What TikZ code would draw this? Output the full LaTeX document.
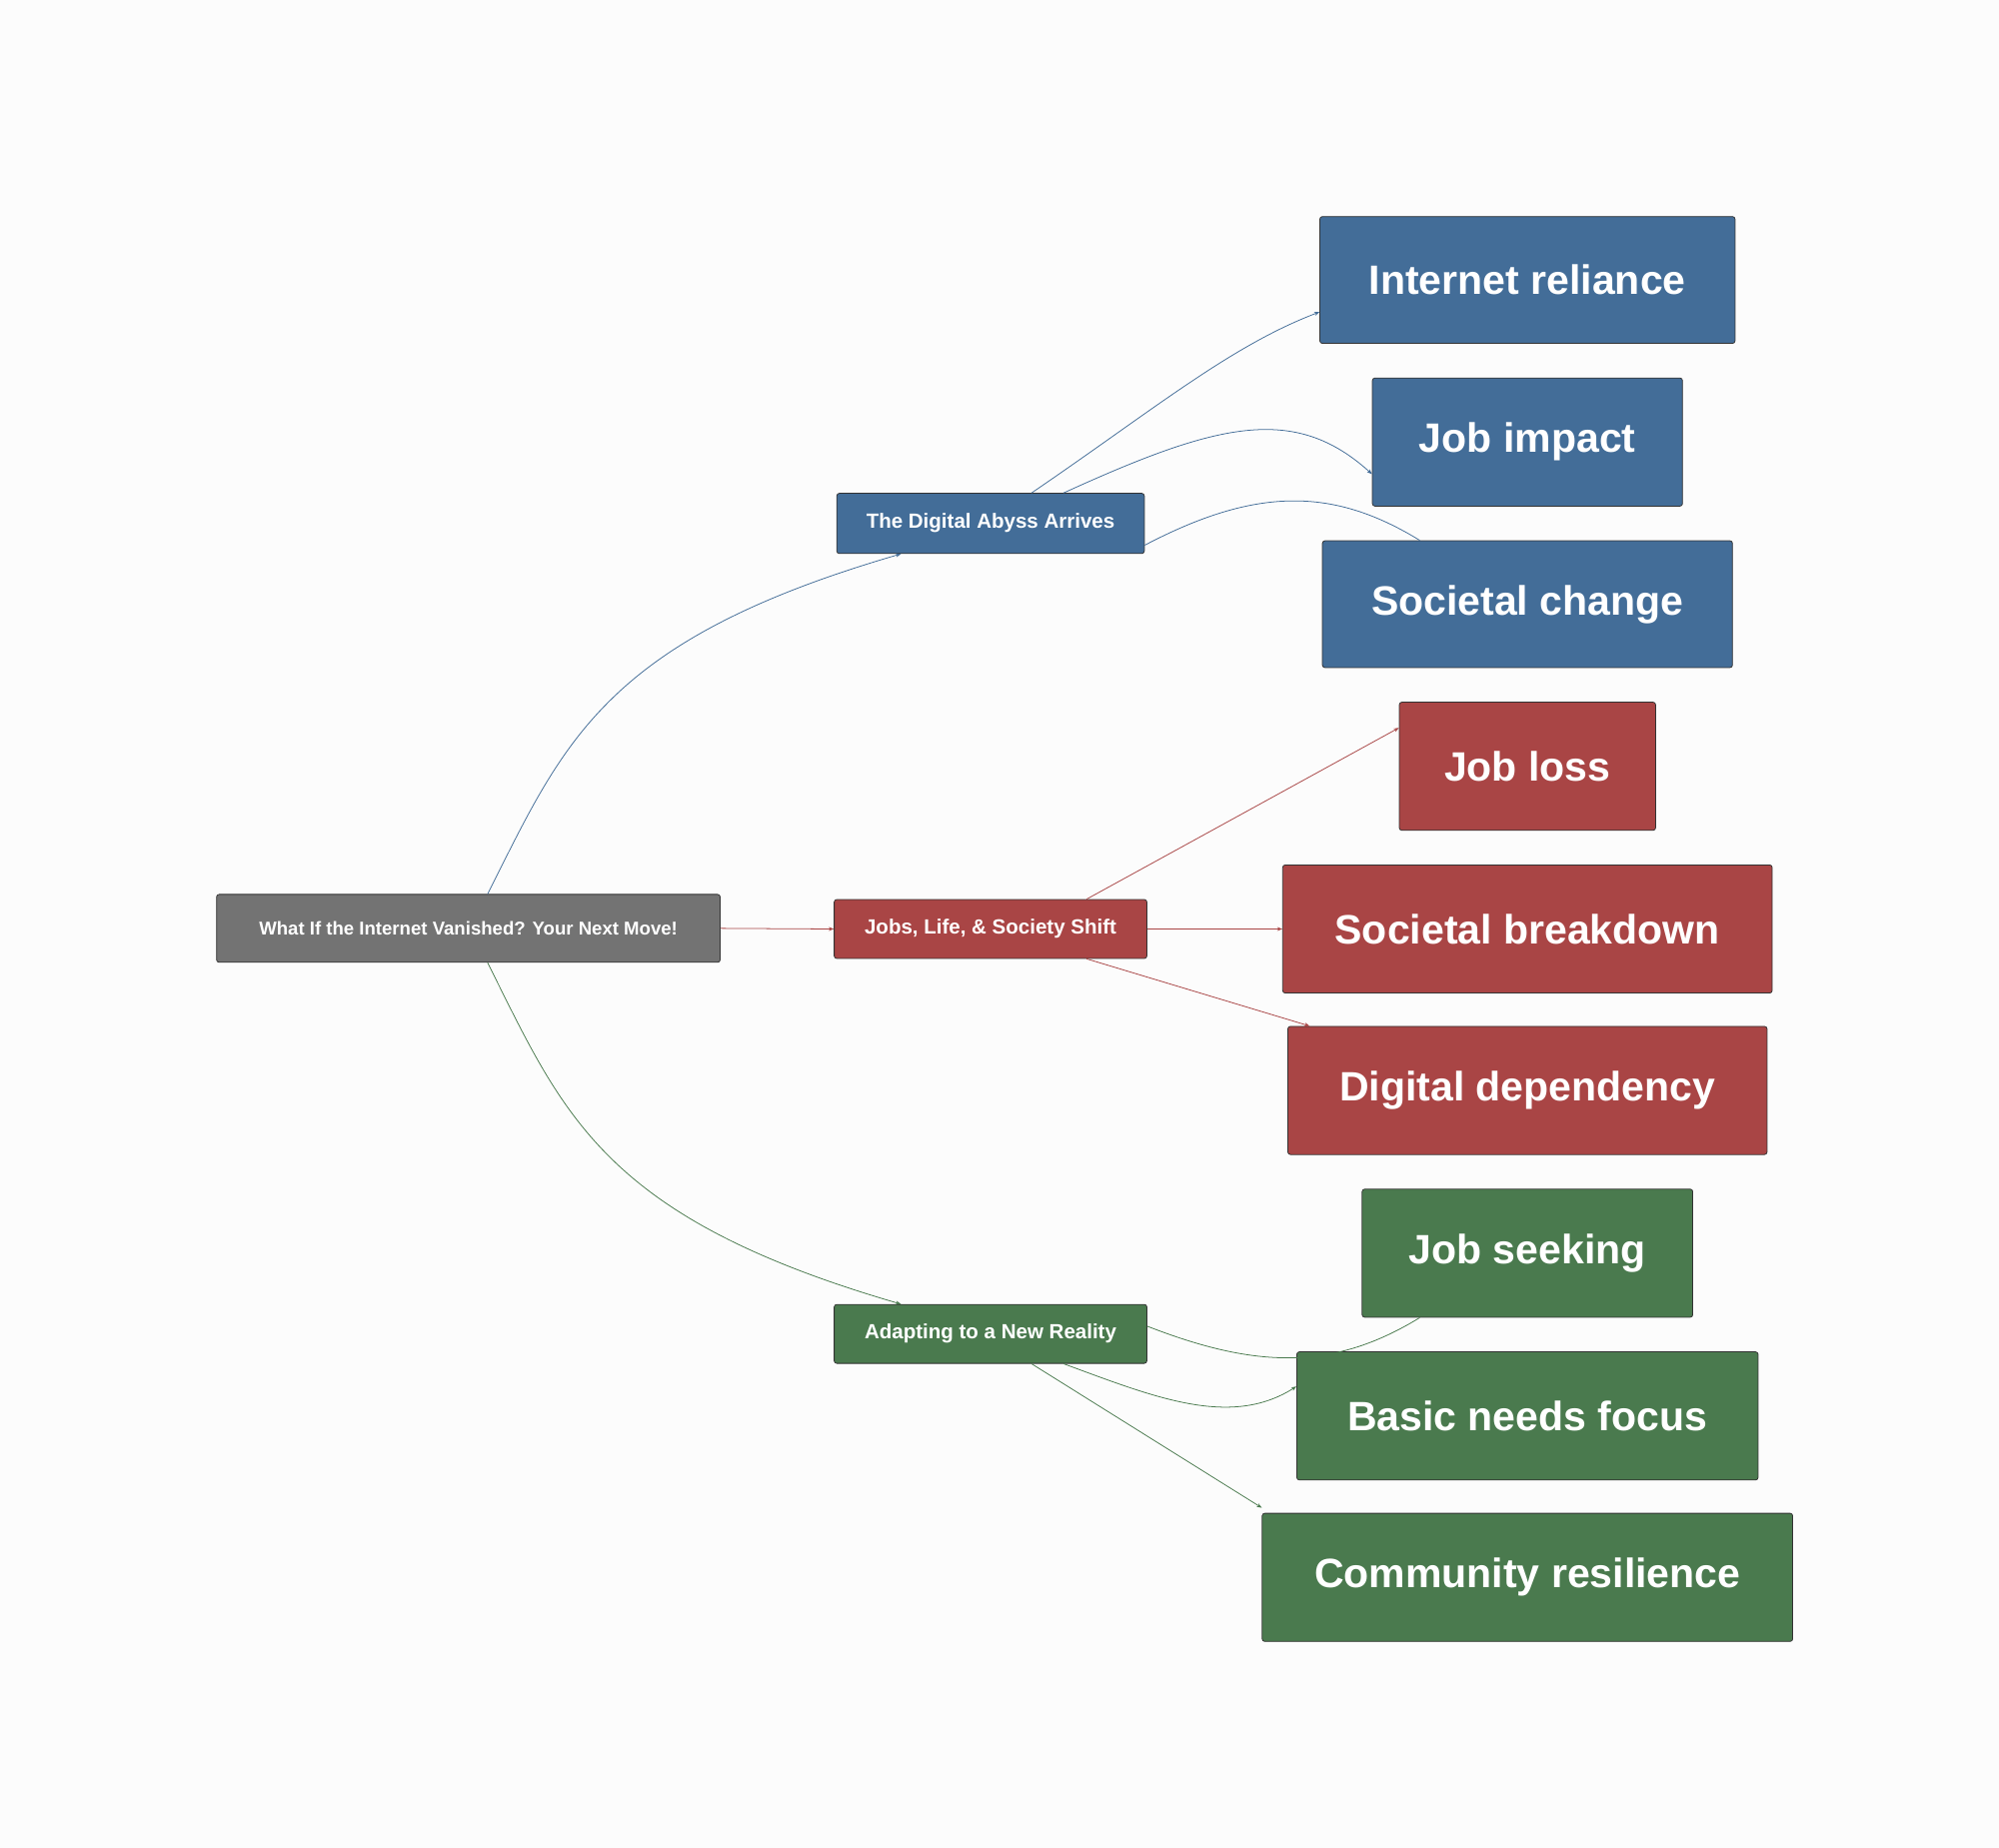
\documentclass[tikz,border=0pt]{standalone}
\usepackage{fontspec}
\setmainfont{Liberation Sans}
\usetikzlibrary{arrows.meta}
\definecolor{cb}{HTML}{436D98}
\definecolor{cr}{HTML}{A94545}
\definecolor{cg}{HTML}{4A7A4E}
\definecolor{cgr}{HTML}{737373}
\begin{document}
\begin{tikzpicture}[x=1pt,y=-1pt,
  bx/.style={draw=black!80,line width=0.6pt,rounded corners=2pt,text=white,font=\bfseries,inner sep=0pt},
  big/.style={font=\fontsize{32}{36}\selectfont\bfseries},
  mid/.style={font=\fontsize{16}{18}\selectfont\bfseries},
  sm/.style={font=\fontsize{14.5}{17}\selectfont\bfseries},
  ar/.style={-{Stealth[length=4pt,width=3pt]},line width=0.6pt}]
\useasboundingbox[fill=white!99!black] (0,0) rectangle (1560,1442);
\def\B#1#2#3#4#5#6#7{\node[bx,fill=#6,#7,minimum width=#3-#1,minimum height=#4-#2] (#5) at ({(#1+#3)/2},{(#2+#4)/2})}
\B{169}{698}{562}{751}{root}{cgr}{sm}{What If the Internet Vanished? Your Next Move!};
\B{653}{385}{893}{432}{abyss}{cb}{mid}{The Digital Abyss Arrives};
\B{651}{702}{895}{748}{jobs}{cr}{mid}{Jobs, Life, \& Society Shift};
\B{651}{1018}{895}{1064}{adapt}{cg}{mid}{Adapting to a New Reality};
\B{1030}{169}{1354}{268}{ir}{cb}{big}{Internet reliance};
\B{1071}{295}{1313}{395}{ji}{cb}{big}{Job impact};
\B{1032}{422}{1352}{521}{sc}{cb}{big}{Societal change};
\B{1092}{548}{1292}{648}{jl}{cr}{big}{Job loss};
\B{1001}{675}{1383}{775}{sb}{cr}{big}{Societal breakdown};
\B{1005}{801}{1379}{901}{dd}{cr}{big}{Digital dependency};
\B{1063}{928}{1321}{1028}{js}{cg}{big}{Job seeking};
\B{1012}{1055}{1372}{1155}{bn}{cg}{big}{Basic needs focus};
\B{985}{1181}{1399}{1281}{cm}{cg}{big}{Community resilience};
\draw[ar,cb] ([xshift=15pt]root.north) .. controls (440,580) and (470,500) .. ([xshift=-70pt]abyss.south);
\draw[ar,cr] (root.east) -- (jobs.west);
\draw[ar,cg] ([xshift=15pt]root.north|-root.south) .. controls (440,870) and (470,950) .. ([xshift=-70pt]adapt.north);
\draw[ar,cb] ([xshift=32pt]abyss.north) .. controls (900,320) and (960,270) .. ([yshift=-25pt]ir.west);
\draw[ar,cb] ([xshift=57pt]abyss.north) .. controls (950,330) and (1010,315) .. ([yshift=-25pt]ji.west);
\draw[cb,line width=0.6pt] ([yshift=-17pt]abyss.east) .. controls (980,380) and (1040,380) .. ([xshift=-84pt]sc.north);
\draw[ar,cr] ([xshift=75pt]jobs.north) -- ([yshift=30pt]jl.west);
\draw[ar,cr] (jobs.east) -- (sb.west);
\draw[ar,cr] ([xshift=75pt]jobs.south) -- ([xshift=-170pt]dd.north);
\draw[cg,line width=0.6pt] ([yshift=6pt]adapt.east) .. controls (980,1068) and (1040,1070) .. ([xshift=-84pt]js.south);
\draw[ar,cg] ([xshift=57pt]adapt.south) .. controls (900,1090) and (960,1115) .. ([yshift=23pt]bn.west);
\draw[ar,cg] ([xshift=32pt]adapt.south) -- ([yshift=4pt]cm.north west);
\end{tikzpicture}
\end{document}
